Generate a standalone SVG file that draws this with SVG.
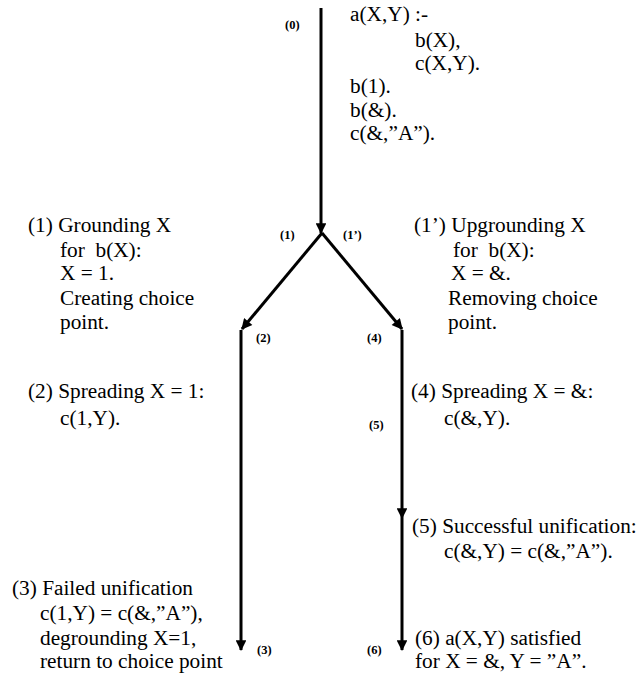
<svg xmlns="http://www.w3.org/2000/svg" width="640" height="676" viewBox="0 0 640 676">
<style>
.t{font-family:"Liberation Serif","Times New Roman",serif;font-size:21.3px;fill:#000}
.s{font-family:"Liberation Serif","Times New Roman",serif;font-size:12.5px;font-weight:bold;fill:#000}
.c{stroke:#000;stroke-width:3;fill:none}
</style>
<defs>
<marker id="ah" viewBox="0 0 10 10" refX="9" refY="5" markerWidth="4" markerHeight="3.6" orient="auto" markerUnits="strokeWidth">
<path d="M0,0 L10,5 L0,10 z" fill="#000"/>
</marker>
</defs>
<g id="connectors">
<line class="c" x1="321" y1="8" x2="321" y2="233" marker-end="url(#ah)"/>
<line class="c" x1="322" y1="233" x2="242" y2="329" marker-end="url(#ah)"/>
<line class="c" x1="322" y1="233" x2="402" y2="329" marker-end="url(#ah)"/>
<line class="c" x1="241" y1="330" x2="241" y2="650" marker-end="url(#ah)"/>
<line class="c" x1="402" y1="330" x2="402" y2="518" marker-end="url(#ah)"/>
<line class="c" x1="402" y1="518" x2="402" y2="650" marker-end="url(#ah)"/>
</g>
<g id="n0">
<text class="s" x="285" y="29">(0)</text>
<text class="t" x="350" y="21">a(X,Y) :-</text>
<text class="t" x="415" y="47">b(X),</text>
<text class="t" x="415" y="70">c(X,Y).</text>
<text class="t" x="350" y="93">b(1).</text>
<text class="t" x="350" y="117">b(&amp;).</text>
<text class="t" x="350" y="140">c(&amp;,”A”).</text>
</g>
<g id="n1">
<text class="s" x="280" y="239">(1)</text>
<text class="t" x="28" y="232">(1) Grounding X</text>
<text class="t" x="60" y="257">for&#160; b(X):</text>
<text class="t" x="60" y="280">X = 1.</text>
<text class="t" x="60" y="305">Creating choice</text>
<text class="t" x="60" y="329">point.</text>
</g>
<g id="n1p">
<text class="s" x="343" y="239">(1’)</text>
<text class="t" x="414" y="232">(1’) Upgrounding X</text>
<text class="t" x="453" y="257">for&#160; b(X):</text>
<text class="t" x="451" y="280">X = &amp;.</text>
<text class="t" x="448" y="305">Removing choice</text>
<text class="t" x="448" y="329">point.</text>
</g>
<g id="n2">
<text class="s" x="256" y="342">(2)</text>
<text class="t" x="28" y="398">(2) Spreading X = 1:</text>
<text class="t" x="60" y="425">c(1,Y).</text>
</g>
<g id="n4">
<text class="s" x="367" y="342">(4)</text>
<text class="t" x="411" y="398">(4) Spreading X = &amp;:</text>
<text class="t" x="444" y="425">c(&amp;,Y).</text>
</g>
<g id="n5">
<text class="s" x="369" y="429">(5)</text>
<text class="t" x="412" y="533">(5) Successful unification:</text>
<text class="t" x="444" y="558">c(&amp;,Y) = c(&amp;,”A”).</text>
</g>
<g id="n3">
<text class="s" x="257" y="654">(3)</text>
<text class="t" x="12" y="595">(3) Failed unification</text>
<text class="t" x="40" y="620">c(1,Y) = c(&amp;,”A”),</text>
<text class="t" x="40" y="645">degrounding X=1,</text>
<text class="t" x="40" y="668">return to choice point</text>
</g>
<g id="n6">
<text class="s" x="367" y="654">(6)</text>
<text class="t" x="415" y="645">(6) a(X,Y) satisfied</text>
<text class="t" x="415" y="668">for X = &amp;, Y = ”A”.</text>
</g>
</svg>
